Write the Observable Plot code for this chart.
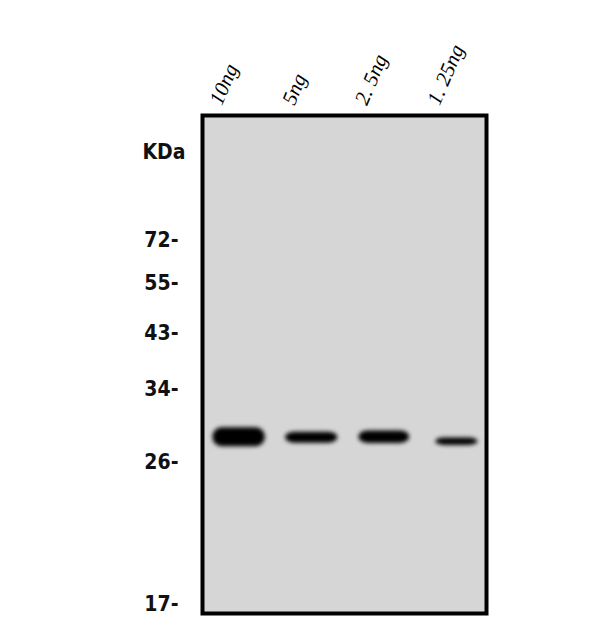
<!DOCTYPE html>
<html>
<head>
<meta charset="utf-8">
<script src="https://cdn.jsdelivr.net/npm/d3@7"></script>
<script src="https://cdn.jsdelivr.net/npm/@observablehq/plot@0.6"></script>
<style>
  html, body { margin: 0; padding: 0; background: #ffffff; }
  #chart svg { display: block; }
</style>
</head>
<body>
<div id="chart"></div>
<script>
// Lanes (amount of protein loaded)
const lanes = ["10ng", "5ng", "2. 5ng", "1. 25ng"];
// Band position as relative migration (0 = top of membrane, 1 = bottom)
const bandMigration = [0.646, 0.647, 0.646, 0.655];
// Band thickness (relative migration units) and width (lane units)
const bandThickness = [0.038, 0.022, 0.025, 0.015];
const bandWidth = [0.72, 0.72, 0.70, 0.58];
// Molecular weight markers
const markerLabels = ["72-", "55-", "43-", "34-", "26-", "17-"];
const markerMigration = [0.251, 0.337, 0.438, 0.550, 0.697, 0.982];
const unitLabel = "KDa";
const unitMigration = 0.074;

const bands = lanes.map((lane, i) => ({
  lane, i,
  m: bandMigration[i],
  t: bandThickness[i],
  w: bandWidth[i]
}));
const markers = markerLabels.map((label, i) => ({label, m: markerMigration[i]}));
const laneLabels = lanes.map((label, i) => ({label, i}));

const labelFont = "'DejaVu Sans Condensed', 'Liberation Sans Narrow', 'DejaVu Sans', sans-serif";

const chart = Plot.plot({
  width: 600,
  height: 643,
  marginLeft: 202,
  marginRight: 114,
  marginTop: 115,
  marginBottom: 30,
  x: {type: "linear", domain: [-0.504, 3.408], axis: null},
  y: {type: "linear", domain: [0, 1], reverse: true, axis: null},
  marks: [
    Plot.frame({fill: "#d6d6d6"}),
    Plot.rect(bands, {
      x1: d => d.i - d.w / 2,
      x2: d => d.i + d.w / 2,
      y1: d => d.m - d.t / 2,
      y2: d => d.m + d.t / 2,
      fill: "#050505",
      rx: 9
    }),
    Plot.frame({stroke: "#000", strokeWidth: 4}),
    Plot.text(laneLabels, {
      x: "i",
      text: "label",
      frameAnchor: "top",
      dx: -31,
      dy: -15,
      rotate: -67,
      textAnchor: "start",
      fontFamily: "'Liberation Serif', 'DejaVu Serif', serif",
      fontStyle: "italic",
      fontSize: 21,
      fill: "#000"
    }),
    Plot.text(markers, {
      y: "m",
      text: "label",
      frameAnchor: "left",
      dx: -24,
      textAnchor: "end",
      fontFamily: labelFont,
      fontWeight: "bold",
      fontSize: 21,
      fill: "#111"
    }),
    Plot.text([{label: unitLabel, m: unitMigration}], {
      y: "m",
      text: "label",
      frameAnchor: "left",
      dx: -17,
      textAnchor: "end",
      fontFamily: labelFont,
      fontWeight: "bold",
      fontSize: 21,
      fill: "#111"
    })
  ]
});

document.getElementById("chart").appendChild(chart);

// soften the band edges like a chemiluminescent exposure
const svg = d3.select(chart);
const filter = svg.insert("defs", ":first-child").append("filter")
  .attr("id", "bandBlur")
  .attr("x", "-30%").attr("y", "-100%")
  .attr("width", "160%").attr("height", "300%");
filter.append("feGaussianBlur").attr("stdDeviation", 1.9);
svg.select('g[aria-label="rect"]').attr("filter", "url(#bandBlur)");
</script>
</body>
</html>
